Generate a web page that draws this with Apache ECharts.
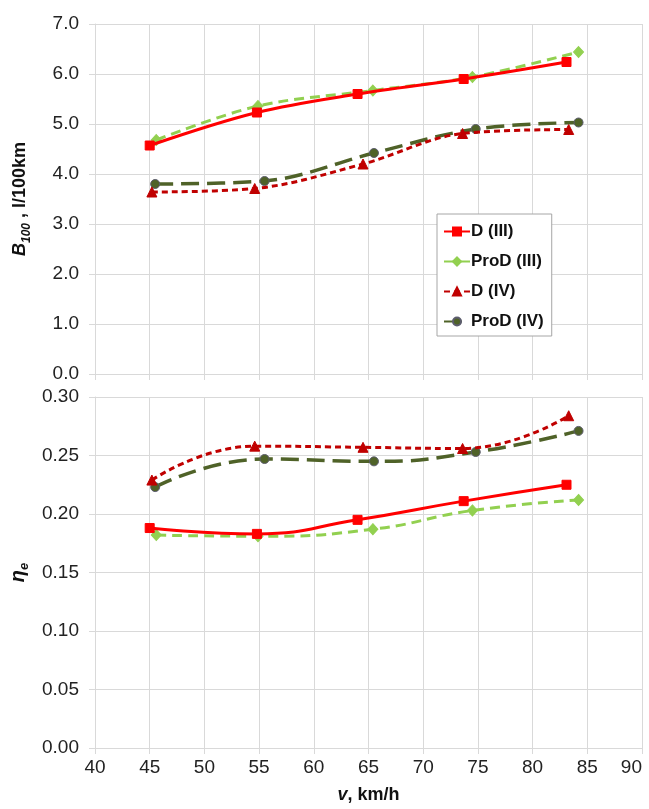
<!DOCTYPE html>
<html>
<head>
<meta charset="utf-8">
<script src="https://cdn.jsdelivr.net/npm/echarts@6/dist/echarts.min.js"></script>
<style>
  html, body { margin: 0; padding: 0; background: #fff; }
  #main { width: 649px; height: 809px; }
</style>
</head>
<body>
<div id="main"></div>
<script>
// speeds, km/h (read per series)
const vD3 = [45.0, 54.8, 64.0, 73.7, 83.1];
const vProD3 = [45.6, 54.9, 65.4, 74.5, 84.2];
const vD4 = [45.2, 54.6, 64.5, 73.6, 83.3];
const vProD4 = [45.5, 55.5, 65.5, 74.8, 84.2];

// fuel consumption B100, l/100km
const bD3 = [4.57, 5.23, 5.60, 5.90, 6.24];
const bProD3 = [4.68, 5.36, 5.67, 5.94, 6.44];
const bD4 = [3.64, 3.71, 4.20, 4.81, 4.89];
const bProD4 = [3.80, 3.86, 4.42, 4.90, 5.03];

// efficiency eta_e
const eD3 = [0.188, 0.183, 0.195, 0.211, 0.225];
const eProD3 = [0.182, 0.181, 0.187, 0.203, 0.212];
const eD4 = [0.229, 0.258, 0.257, 0.256, 0.284];
const eProD4 = [0.223, 0.247, 0.245, 0.253, 0.271];

const names = ['D (III)', 'ProD (III)', 'D (IV)', 'ProD (IV)'];

const FONT = 'Liberation Sans';
const GRID_COLOR = '#d9d9d9';

const pairs = (xs, ys) => xs.map((x, i) => [x, ys[i]]);

const styles = [
    { color: '#ff0000', symbol: 'rect', symbolSize: 9, type: 'solid', width: 3 },
    { color: '#92d050', symbol: 'diamond', symbolSize: [10, 11], type: [10, 6], width: 3 },
    { color: '#c00000', symbol: 'triangle', symbolSize: 10, type: [6, 4], width: 3 },
    { color: '#4f6228', symbol: 'circle', symbolSize: 9, type: [18, 8], width: 3.5 },
];

function makeSeries(name, data, idx, st, smooth) {
    return {
        name: name,
        type: 'line',
        xAxisIndex: idx,
        yAxisIndex: idx,
        data: data,
        smooth: smooth,
        symbol: st.symbol,
        symbolSize: st.symbolSize,
        showAllSymbol: true,
        z: 10 - names.indexOf(name),
        lineStyle: { color: st.color, width: st.width, type: st.type },
        itemStyle: {
            color: st.color,
            borderColor: st.symbol === 'circle' ? '#5d5d6e' : st.color,
            borderWidth: 1,
        },
        emphasis: { disabled: true },
    };
}

const topData = [pairs(vD3, bD3), pairs(vProD3, bProD3), pairs(vD4, bD4), pairs(vProD4, bProD4)];
const botData = [pairs(vD3, eD3), pairs(vProD3, eProD3), pairs(vD4, eD4), pairs(vProD4, eProD4)];

const series = [];
topData.forEach((d, i) => series.push(makeSeries(names[i], d, 0, styles[i], 0.35)));
botData.forEach((d, i) => series.push(makeSeries(names[i], d, 1, styles[i], 0.5)));

const xAxisBase = {
    type: 'value',
    min: 40,
    max: 90,
    interval: 5,
    axisLine: { show: true, lineStyle: { color: GRID_COLOR } },
    axisTick: { show: true, length: 6, lineStyle: { color: GRID_COLOR } },
    splitLine: { show: true, lineStyle: { color: GRID_COLOR, width: 1 } },
    axisLabel: { color: '#222', fontSize: 19, fontFamily: FONT, margin: 10, alignMaxLabel: 'right' },
};

const yAxisBase = {
    type: 'value',
    axisLine: { show: true, lineStyle: { color: GRID_COLOR } },
    axisTick: { show: true, length: 6, lineStyle: { color: GRID_COLOR } },
    splitLine: { show: true, lineStyle: { color: GRID_COLOR, width: 1 } },
    nameLocation: 'middle',
    nameRotate: 90,
    nameGap: 62,
};

const chart = echarts.init(document.getElementById('main'), null, { renderer: 'canvas' });

chart.setOption({
    backgroundColor: '#fff',
    animation: false,
    textStyle: { fontFamily: FONT },
    grid: [
        { left: 95, right: 7, top: 24, height: 350, outerBoundsMode: 'none', containLabel: false },
        { left: 95, right: 7, top: 397, height: 351, outerBoundsMode: 'none', containLabel: false },
    ],
    legend: {
        data: names,
        orient: 'vertical',
        left: 437,
        top: 214,
        width: 116,
        padding: [9, 8, 6, 6],
        itemGap: 13,
        itemWidth: 26,
        itemHeight: 10,
        borderColor: '#a6a6a6',
        borderWidth: 1,
        backgroundColor: '#fff',
        textStyle: { fontSize: 17, fontWeight: 'bold', color: '#111', fontFamily: FONT, padding: [0, 0, 0, -4] },
    },
    xAxis: [
        Object.assign({}, xAxisBase, { gridIndex: 0, axisLabel: { show: false } }),
        Object.assign({}, xAxisBase, {
            gridIndex: 1,
            name: '{i|v}{b|, km/h}',
            nameLocation: 'middle',
            nameGap: 38,
            nameTextStyle: {
                rich: {
                    i: { fontSize: 18, fontWeight: 'bold', fontStyle: 'italic', color: '#111', fontFamily: FONT },
                    b: { fontSize: 18, fontWeight: 'bold', color: '#111', fontFamily: FONT },
                },
            },
        }),
    ],
    yAxis: [
        Object.assign({}, yAxisBase, {
            gridIndex: 0,
            min: 0,
            max: 7,
            interval: 1,
            axisLabel: { color: '#222', fontSize: 19, fontFamily: FONT, margin: 16, formatter: v => v.toFixed(1) },
            name: '{i|B}{s|100}{b| , l/100km}',
            nameTextStyle: {
                rich: {
                    i: { fontSize: 18, fontWeight: 'bold', fontStyle: 'italic', color: '#111', fontFamily: FONT, lineHeight: 26 },
                    s: { fontSize: 12, fontWeight: 'bold', fontStyle: 'italic', color: '#111', fontFamily: FONT, verticalAlign: 'bottom', lineHeight: 16 },
                    b: { fontSize: 18, fontWeight: 'bold', color: '#111', fontFamily: FONT, lineHeight: 26 },
                },
            },
        }),
        Object.assign({}, yAxisBase, {
            gridIndex: 1,
            min: 0,
            max: 0.3,
            interval: 0.05,
            axisLabel: { color: '#222', fontSize: 19, fontFamily: FONT, margin: 16, formatter: v => v.toFixed(2) },
            name: '{i|η}{s|e}',
            nameTextStyle: {
                rich: {
                    i: { fontSize: 20, fontWeight: 'bold', fontStyle: 'italic', color: '#111', fontFamily: FONT, lineHeight: 26 },
                    s: { fontSize: 13, fontWeight: 'bold', fontStyle: 'italic', color: '#111', fontFamily: FONT, verticalAlign: 'bottom', lineHeight: 16 },
                },
            },
        }),
    ],
    series: series,
});
</script>
</body>
</html>
